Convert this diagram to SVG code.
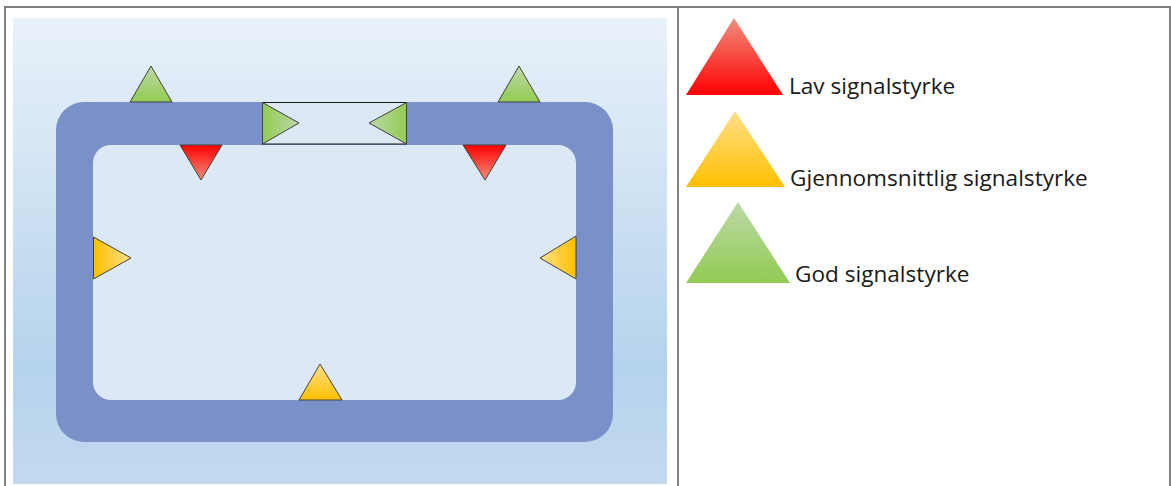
<svg xmlns="http://www.w3.org/2000/svg" width="1171" height="486" viewBox="0 0 1171 486">
<style>
.frame{fill:none;stroke:#808080;stroke-width:2}
.tri{stroke:#404040;stroke-width:1;stroke-linejoin:miter}
.lbl{font-family:"Open Sans","Liberation Sans",sans-serif;font-size:22.6px;fill:#1a1a1a}
</style>
<defs>
<linearGradient id="bg" x1="0" y1="0" x2="0" y2="1">
<stop offset="0" stop-color="#e9f1fa"/>
<stop offset="0.75" stop-color="#b5d3ec"/>
<stop offset="1" stop-color="#c3d9ef"/>
</linearGradient>
<linearGradient id="gUp" x1="0" y1="1" x2="0" y2="0"><stop offset="0" stop-color="#92cb52"/><stop offset="1" stop-color="#bcd9a8"/></linearGradient>
<linearGradient id="gRight" x1="0" y1="0" x2="1" y2="0"><stop offset="0" stop-color="#92cb52"/><stop offset="1" stop-color="#bcd9a8"/></linearGradient>
<linearGradient id="gLeft" x1="1" y1="0" x2="0" y2="0"><stop offset="0" stop-color="#92cb52"/><stop offset="1" stop-color="#bcd9a8"/></linearGradient>
<linearGradient id="rDown" x1="0" y1="0" x2="0" y2="1"><stop offset="0" stop-color="#ff0000"/><stop offset="1" stop-color="#f0907a"/></linearGradient>
<linearGradient id="yUp" x1="0" y1="1" x2="0" y2="0"><stop offset="0" stop-color="#ffbf00"/><stop offset="1" stop-color="#ffe08a"/></linearGradient>
<linearGradient id="yRight" x1="0" y1="0" x2="1" y2="0"><stop offset="0" stop-color="#ffbf00"/><stop offset="1" stop-color="#ffe08a"/></linearGradient>
<linearGradient id="yLeft" x1="1" y1="0" x2="0" y2="0"><stop offset="0" stop-color="#ffbf00"/><stop offset="1" stop-color="#ffe08a"/></linearGradient>
<linearGradient id="rUp" x1="0" y1="1" x2="0" y2="0"><stop offset="0" stop-color="#ff0000"/><stop offset="1" stop-color="#f09080"/></linearGradient>
</defs>

<g id="frame">
<line class="frame" x1="5" y1="7" x2="5" y2="486"/>
<line class="frame" x1="4" y1="7" x2="1171" y2="7"/>
<line class="frame" x1="678" y1="7" x2="678" y2="486"/>
<line class="frame" x1="1170" y1="6" x2="1170" y2="486"/>
</g>

<rect id="panel" x="13" y="18" width="654" height="466" fill="url(#bg)"/>

<g id="ring">
<rect x="56" y="102" width="557" height="340" rx="28" ry="28" fill="#7a90c8"/>
<rect x="93" y="145" width="483" height="255" rx="18" ry="18" fill="#dde8f5"/>
</g>

<g id="door">
<rect x="262.5" y="102.5" width="144" height="41.5" fill="#dde8f5" stroke="#1a1a1a" stroke-width="1"/>
<polygon class="tri" points="262.5,102.5 262.5,144 299,123" fill="url(#gRight)"/>
<polygon class="tri" points="406.5,102.5 406.5,144 369,123" fill="url(#gLeft)"/>
</g>

<g id="green-top-left"><polygon class="tri" points="130,102 172,102 151,66" fill="url(#gUp)"/></g>
<g id="green-top-right"><polygon class="tri" points="498,102 540,102 519,66" fill="url(#gUp)"/></g>
<g id="red-left"><polygon class="tri" points="180,145 222,145 201,180" fill="url(#rDown)"/></g>
<g id="red-right"><polygon class="tri" points="463,145 506,145 485,180" fill="url(#rDown)"/></g>
<g id="yellow-left"><polygon class="tri" points="93.5,237 93.5,279 131,258" fill="url(#yRight)"/></g>
<g id="yellow-right"><polygon class="tri" points="576,236 576,279 540,258" fill="url(#yLeft)"/></g>
<g id="yellow-bottom"><polygon class="tri" points="299,400 342,400 320,364" fill="url(#yUp)"/></g>

<g id="legend-low">
<polygon points="686,95 783,95 734,18" fill="url(#rUp)"/>
<text class="lbl" x="789" y="94">Lav signalstyrke</text>
</g>
<g id="legend-mid">
<polygon points="686,187 785,187 735,111" fill="url(#yUp)"/>
<text class="lbl" x="790" y="186">Gjennomsnittlig signalstyrke</text>
</g>
<g id="legend-good">
<polygon points="686,283 790,283 738,202" fill="url(#gUp)"/>
<text class="lbl" x="795" y="282">God signalstyrke</text>
</g>
</svg>
